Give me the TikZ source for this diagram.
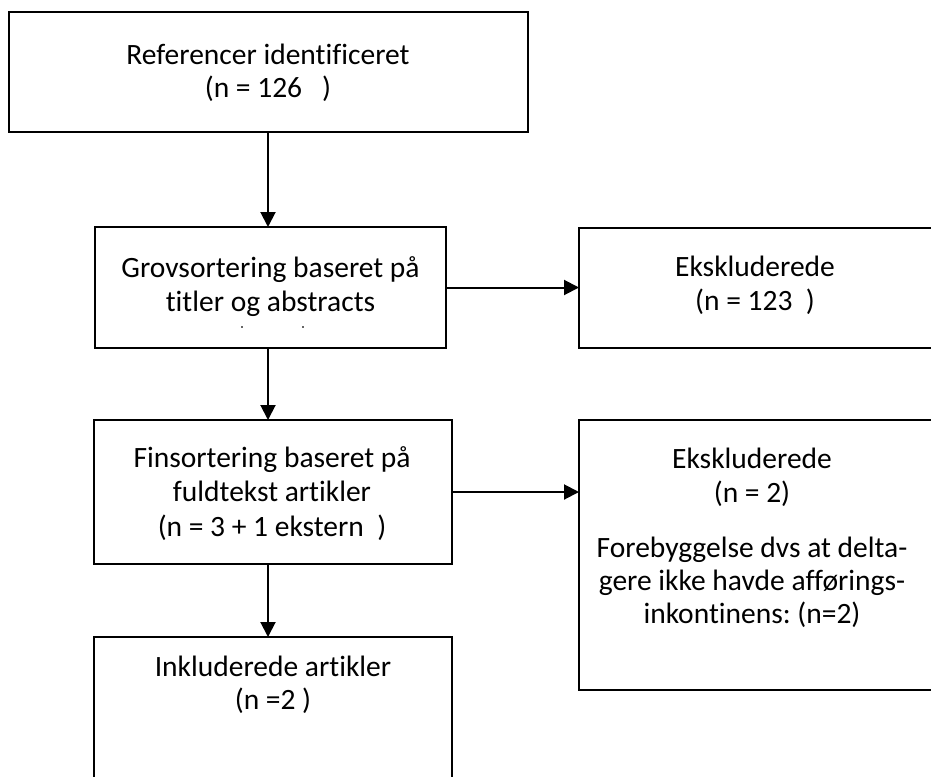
\documentclass[tikz,border=0pt]{standalone}
\usepackage{fontspec}
\setmainfont[Ligatures=NoCommon]{Carlito}
\frenchspacing
\usetikzlibrary{arrows.meta}
\begin{document}
\begin{tikzpicture}[x=1pt,y=-1pt,
  box/.style={draw=black, line width=2pt, fill=white, inner sep=0pt, outer sep=0pt},
  txt/.style={anchor=base, inner sep=0pt, font=\fontsize{29.5}{35}\selectfont},
  flow/.style={line width=2pt, -{Triangle[length=15pt,width=15pt]}}]
  % page area
  \clip (0,0) rectangle (931,776);
  \fill[white] (0,0) rectangle (931,776);

  % boxes
  \node[box, minimum width=519pt, minimum height=120pt] (b1) at (268.5,72) {};
  \node[box, minimum width=351pt, minimum height=121pt] (b2) at (270.5,287.5) {};
  \node[box, minimum width=356pt, minimum height=120pt] (b3) at (757,288) {};
  \node[box, minimum width=358pt, minimum height=144pt] (b4) at (273,492) {};
  \node[box, minimum width=356pt, minimum height=270pt] (b5) at (757,555) {};
  \node[box, minimum width=358pt, minimum height=163pt] (b6) at (273,718.5) {};

  % box texts
  \node[txt] (t1a) at (268,64) {Referencer identificeret};
  \node[txt] (t1b) at (268,97) {(n = 126\ \ \ )};

  \node[txt] (t2a) at (270.5,277) {Grovsortering baseret på};
  \node[txt] (t2b) at (270.5,311) {titler og abstracts};
  \fill[black!60] (241,326) rectangle (243,328);
  \fill[black!60] (302,326) rectangle (304,328);

  \node[txt] (t3a) at (755,276) {Ekskluderede};
  \node[txt] (t3b) at (755,310) {(n = 123\ \ )};

  \node[txt] (t4a) at (272,467) {Finsortering baseret på};
  \node[txt] (t4b) at (272,501.5) {fuldtekst artikler};
  \node[txt] (t4c) at (272,536) {(n = 3 + 1 ekstern\ \ )};

  \node[txt] (t5a) at (752,468) {Ekskluderede};
  \node[txt] (t5b) at (752,502) {(n = 2)};
  \node[txt] (t5c) at (752,557) {Forebyggelse dvs at delta-};
  \node[txt] (t5d) at (752,590) {gere ikke havde afførings-};
  \node[txt] (t5e) at (752,623) {inkontinens: (n=2)};

  \node[txt] (t6a) at (273,676) {Inkluderede artikler};
  \node[txt] (t6b) at (273,709) {(n =2 )};

  % connectors
  \coordinate (spine) at (268,0);
  \draw[flow] (b1.south -| spine) -- (b2.north -| spine);
  \draw[flow] (b2.south -| spine) -- (b4.north -| spine);
  \draw[flow] (b4.south -| spine) -- (b6.north -| spine);
  \draw[flow] (b2.east) -- (b2.east -| b3.west);
  \draw[flow] (b4.east) -- (b4.east -| b5.west);
\end{tikzpicture}
\end{document}
